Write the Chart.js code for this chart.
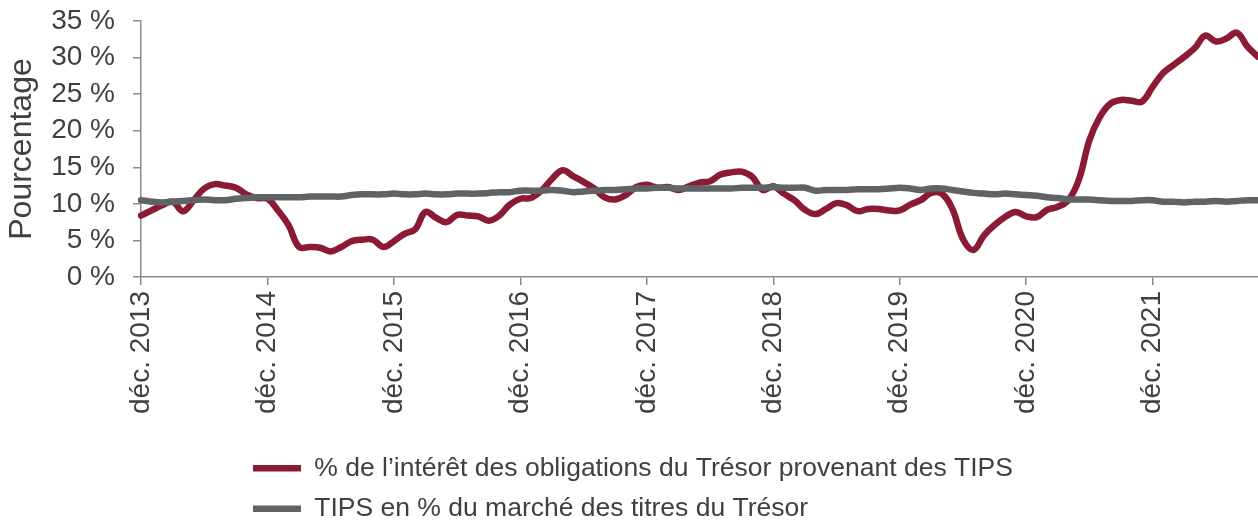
<!DOCTYPE html>
<html>
<head>
<meta charset="utf-8">
<style>
  body { margin: 0; background: #fff; }
</style>
</head>
<body>
<canvas id="myChart" width="1258" height="523"></canvas>

<script src="https://cdn.jsdelivr.net/npm/chart.js"></script>
<script>
// Données mensuelles, de déc. 2013 à oct. 2022
var moisCourts = ['janv.', 'févr.', 'mars', 'avr.', 'mai', 'juin', 'juil.', 'août', 'sept.', 'oct.', 'nov.', 'déc.'];
var premierMois = { mois: 11, annee: 2013 };
var nbMois = 107;

// Étiquettes affichées sur l'axe (une par an)
var tickLabels = ['déc. 2013', 'déc. 2014', 'déc. 2015', 'déc. 2016', 'déc. 2017',
                  'déc. 2018', 'déc. 2019', 'déc. 2020', 'déc. 2021'];

// % de l'intérêt des obligations du Trésor provenant des TIPS
var interetTips = [
   8.4,  9.1,  9.8, 10.3,  9.0, 10.5, 12.1, 12.7, 12.5, 12.2, 11.3, 10.8,
  10.7,  9.1,  7.1,  4.1,  4.1,  4.0,  3.5,  4.1,  4.9,  5.1,  5.1,  4.1,
   4.9,  5.9,  6.5,  8.9,  8.1,  7.5,  8.5,  8.4,  8.3,  7.7,  8.4,  9.9,
  10.7, 10.8, 11.8, 13.4, 14.6, 13.8, 13.0, 12.1, 10.9, 10.6, 11.2, 12.3,
  12.6, 12.2, 12.3, 11.9, 12.4, 12.9, 13.1, 14.0, 14.3, 14.4, 13.7, 11.9,
  12.4, 11.4, 10.5,  9.2,  8.6,  9.3, 10.1,  9.8,  9.0,  9.3,  9.3,  9.1,
   9.1,  9.9, 10.5, 11.5, 11.4,  9.3,  5.2,  3.7,  5.7,  7.1,  8.2,  8.9,
   8.3,  8.2,  9.2,  9.6, 10.5, 13.3, 18.7, 21.9, 23.7, 24.2, 24.1, 24.0,
  26.0, 27.9, 29.0, 30.1, 31.3, 33.0, 32.2, 32.6, 33.4, 31.5, 30.1
];

// TIPS en % du marché des titres du Trésor
var partMarche = [
  10.5, 10.3, 10.2, 10.3, 10.4, 10.5, 10.6, 10.5, 10.5, 10.7, 10.8, 10.9,
  10.9, 10.9, 10.9, 10.9, 11.0, 11.0, 11.0, 11.0, 11.2, 11.3, 11.3, 11.3,
  11.4, 11.3, 11.3, 11.4, 11.3, 11.3, 11.4, 11.4, 11.4, 11.5, 11.6, 11.6,
  11.8, 11.8, 11.8, 11.9, 11.8, 11.6, 11.7, 11.8, 11.9, 11.9, 12.0, 12.1,
  12.1, 12.2, 12.2, 12.1, 12.1, 12.1, 12.1, 12.1, 12.1, 12.2, 12.2, 12.2,
  12.3, 12.2, 12.2, 12.2, 11.8, 11.9, 11.9, 11.9, 12.0, 12.0, 12.0, 12.1,
  12.2, 12.1, 11.9, 12.1, 12.1, 11.9, 11.7, 11.5, 11.4, 11.3, 11.4, 11.3,
  11.2, 11.1, 10.9, 10.8, 10.6, 10.6, 10.6, 10.5, 10.4, 10.4, 10.4, 10.5,
  10.5, 10.3, 10.3, 10.2, 10.3, 10.3, 10.4, 10.3, 10.4, 10.5, 10.5
];

var categories = [];
for (var k = 0; k < nbMois; k++) {
  var m = (premierMois.mois + k) % 12;
  var a = premierMois.annee + Math.floor((premierMois.mois + k) / 12);
  categories.push(moisCourts[m] + ' ' + a);
}

var texte = '#404040';
var axe = '#8a8a8a';
Chart.defaults.font.family = "'Liberation Sans', Arial, sans-serif";
Chart.defaults.color = texte;

// Place la légende sous le graphique, alignée à gauche
var placeLegende = {
  id: 'placeLegende',
  afterLayout: function(chart) {
    var l = chart.legend;
    l.left = 239;
    l.top = 441;
    l.right = 1258;
    l.bottom = 800; // assez bas pour garder les deux entrées dans une seule colonne
  }
};

var ctx = document.getElementById('myChart').getContext('2d');
var chart = new Chart(ctx, {
  type: 'line',
  data: {
    labels: categories,
    datasets: [{
      label: '% de l’intérêt des obligations du Trésor provenant des TIPS',
      data: interetTips,
      borderColor: '#8b1a34',
      backgroundColor: '#8b1a34',
      borderWidth: 6.5,
      borderCapStyle: 'round',
      borderJoinStyle: 'round',
      pointRadius: 0,
      tension: 0.4,
      order: 1
    }, {
      label: 'TIPS en % du marché des titres du Trésor',
      data: partMarche,
      borderColor: '#5f6366',
      backgroundColor: '#5f6366',
      borderWidth: 6.5,
      borderCapStyle: 'round',
      borderJoinStyle: 'round',
      pointRadius: 0,
      tension: 0.4,
      order: 0
    }]
  },
  options: {
    responsive: false,
    animation: false,
    devicePixelRatio: 1,
    layout: { padding: { top: 21, right: 0, bottom: 0, left: 0 } },
    scales: {
      x: {
        offset: false,
        border: { display: true, color: axe, width: 1.5 },
        grid: {
          drawOnChartArea: false,
          drawTicks: true,
          tickLength: 8,
          color: function(c) { return c.index % 12 === 0 ? axe : 'rgba(0,0,0,0)'; },
          lineWidth: 1.5
        },
        ticks: {
          autoSkip: false,
          maxRotation: 90,
          minRotation: 90,
          padding: 6,
          font: { size: 28 },
          color: texte,
          callback: function(v, i) { return i % 12 === 0 ? tickLabels[i / 12] : ''; }
        },
        afterFit: function(s) { s.height = 246; s.paddingLeft = 0; s.paddingRight = 0; }
      },
      y: {
        min: 0,
        max: 35,
        border: { display: true, color: axe, width: 1.5 },
        grid: { drawOnChartArea: false, drawTicks: true, tickLength: 8, color: axe, lineWidth: 1.5 },
        ticks: {
          stepSize: 5,
          autoSkip: false,
          padding: 18,
          font: { size: 28 },
          color: texte,
          callback: function(v) { return v + ' %'; }
        },
        title: {
          display: true,
          text: 'Pourcentage',
          font: { size: 32 },
          color: texte,
          padding: { top: 3, bottom: 0 }
        },
        afterFit: function(s) { s.width = 141; s.paddingTop = 0; s.paddingBottom = 0; }
      }
    },
    plugins: {
      legend: {
        position: 'chartArea',
        align: 'start',
        labels: {
          usePointStyle: true,
          pointStyle: 'line',
          pointStyleWidth: 48,
          padding: 14,
          font: { size: 26.5 },
          color: texte,
          sort: function(a, b) { return a.datasetIndex - b.datasetIndex; }
        }
      },
      tooltip: { enabled: false }
    }
  },
  plugins: [placeLegende]
});
</script>
</body>
</html>
